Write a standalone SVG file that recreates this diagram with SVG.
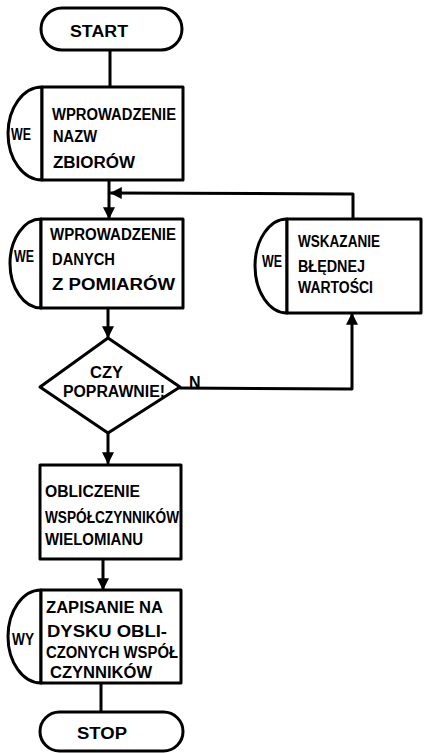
<svg xmlns="http://www.w3.org/2000/svg" width="425" height="753" viewBox="0 0 425 753">
<style>
.s{fill:none;stroke:#000;stroke-width:3;stroke-linejoin:round;stroke-linecap:round}
.w{fill:#fff;stroke:#000;stroke-width:3;stroke-linejoin:round}
.t{font-family:"Liberation Sans",Arial,sans-serif;font-weight:bold;font-size:16px;fill:#000}
.c{text-anchor:middle}
</style>
<defs>
<marker id="ah" viewBox="0 0 10 10" refX="9" refY="5" markerWidth="4" markerHeight="4" orient="auto" markerUnits="strokeWidth">
<path d="M0,0 L10,5 L0,10 z" fill="#000"/>
</marker>
</defs>
<rect width="425" height="753" fill="#fff"/>
<g id="connectors">
<line class="s" x1="110" y1="50" x2="110" y2="87"/>
<line class="s" x1="109" y1="180" x2="109" y2="218" marker-end="url(#ah)"/>
<line class="s" x1="108" y1="308" x2="108" y2="337" marker-end="url(#ah)"/>
<line class="s" x1="108" y1="433" x2="108" y2="463" marker-end="url(#ah)"/>
<line class="s" x1="103" y1="559" x2="103" y2="589" marker-end="url(#ah)"/>
<line class="s" x1="101" y1="683" x2="101" y2="712"/>
<polyline class="s" points="180,388 352,389 352,314" marker-end="url(#ah)"/>
<polyline class="s" points="353,219 353,194 111,193" marker-end="url(#ah)"/>
<text class="t" x="189" y="388" font-size="14">N</text>
</g>
<g id="start">
<rect class="w" x="41" y="8" width="141" height="42" rx="21"/>
<text class="t" x="70" y="37" textLength="58" lengthAdjust="spacingAndGlyphs">START</text>
</g>
<g id="input1">
<path class="w" d="M42,87 A34,46.5 0 0 0 42,180 Z"/>
<rect class="w" x="42" y="87" width="141" height="93"/>
<text class="t" x="11" y="140" textLength="20" lengthAdjust="spacingAndGlyphs">WE</text>
<text class="t" x="52" y="120" textLength="124" lengthAdjust="spacingAndGlyphs">WPROWADZENIE</text>
<text class="t" x="53" y="142" textLength="44" lengthAdjust="spacingAndGlyphs">NAZW</text>
<text class="t" x="53" y="168" textLength="82" lengthAdjust="spacingAndGlyphs">ZBIORÓW</text>
</g>
<g id="input2">
<path class="w" d="M41,219 A31,44.5 0 0 0 41,308 Z"/>
<rect class="w" x="41" y="219" width="142" height="89"/>
<text class="t" x="14" y="262" textLength="20" lengthAdjust="spacingAndGlyphs">WE</text>
<text class="t" x="50" y="240" textLength="126" lengthAdjust="spacingAndGlyphs">WPROWADZENIE</text>
<text class="t" x="52" y="265" textLength="63" lengthAdjust="spacingAndGlyphs">DANYCH</text>
<text class="t" x="52" y="290" textLength="123" lengthAdjust="spacingAndGlyphs">Z POMIARÓW</text>
</g>
<g id="error">
<path class="w" d="M287,219 A32,47 0 0 0 287,313 Z"/>
<rect class="w" x="287" y="219" width="134" height="94"/>
<text class="t" x="262" y="267" textLength="20" lengthAdjust="spacingAndGlyphs">WE</text>
<text class="t" x="298" y="247" textLength="82" lengthAdjust="spacingAndGlyphs">WSKAZANIE</text>
<text class="t" x="298" y="272" textLength="67" lengthAdjust="spacingAndGlyphs">BŁĘDNEJ</text>
<text class="t" x="298" y="293" textLength="75" lengthAdjust="spacingAndGlyphs">WARTOŚCI</text>
</g>
<g id="decision">
<polygon class="w" points="108,338 180,387 108,433 40,387"/>
<text class="t" x="90" y="378" textLength="33" lengthAdjust="spacingAndGlyphs">CZY</text>
<text class="t" x="63" y="397" textLength="102" lengthAdjust="spacingAndGlyphs">POPRAWNIE!</text>
</g>
<g id="compute">
<rect class="w" x="40" y="465" width="141" height="94"/>
<text class="t" x="45" y="497" textLength="95" lengthAdjust="spacingAndGlyphs">OBLICZENIE</text>
<text class="t" x="45" y="523" textLength="134" lengthAdjust="spacingAndGlyphs">WSPÓŁCZYNNIKÓW</text>
<text class="t" x="45" y="545" textLength="98" lengthAdjust="spacingAndGlyphs">WIELOMIANU</text>
</g>
<g id="output">
<path class="w" d="M41,590 A33,46.5 0 0 0 41,683 Z"/>
<rect class="w" x="41" y="590" width="140" height="93"/>
<text class="t" x="12" y="645" textLength="22" lengthAdjust="spacingAndGlyphs">WY</text>
<text class="t" x="46" y="613" textLength="117" lengthAdjust="spacingAndGlyphs">ZAPISANIE NA</text>
<text class="t" x="47" y="637" textLength="120" lengthAdjust="spacingAndGlyphs">DYSKU OBLI-</text>
<text class="t" x="46" y="658" textLength="132" lengthAdjust="spacingAndGlyphs">CZONYCH WSPÓŁ</text>
<text class="t" x="50" y="678" textLength="102" lengthAdjust="spacingAndGlyphs">CZYNNIKÓW</text>
</g>
<g id="stop">
<rect class="w" x="40" y="712" width="143" height="39" rx="19.5"/>
<text class="t" x="77" y="739" textLength="50" lengthAdjust="spacingAndGlyphs">STOP</text>
</g>
</svg>
